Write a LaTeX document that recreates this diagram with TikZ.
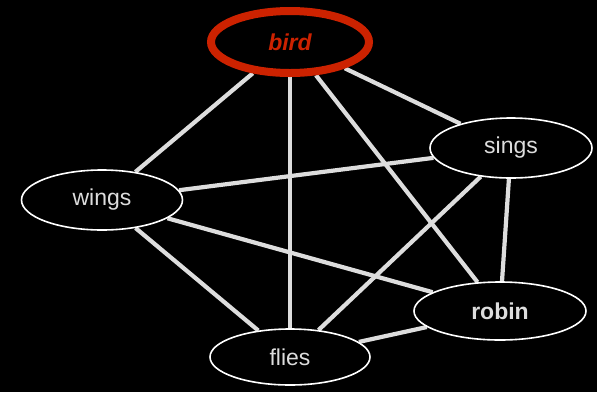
\documentclass[tikz,border=0pt]{standalone}
\usepackage{fontspec}
\setmainfont{Liberation Sans}
\usetikzlibrary{shapes.geometric,backgrounds}
\definecolor{edgegray}{HTML}{DDDDDD}
\definecolor{birdred}{HTML}{CC2200}
\pgfdeclarelayer{canvas}
\pgfsetlayers{canvas,background,main}
\begin{document}
\begin{tikzpicture}[x=1pt,y=-1pt,
  concept/.style={ellipse,draw=white,line width=1.6pt,fill=black,text=edgegray,
    font=\fontsize{23}{27}\selectfont,inner sep=0pt},
  link/.style={draw=edgegray,line width=4.2pt}]
\begin{pgfonlayer}{canvas}
\fill[black] (0,0) rectangle (597,392);
\end{pgfonlayer}
\useasboundingbox (0,0) rectangle (597,392);
\node[concept,minimum width=162pt,minimum height=60pt] (sings) at (511,148) {sings};
\node[concept,minimum width=161pt,minimum height=60pt] (wings) at (102,200) {wings};
\node[concept,minimum width=172pt,minimum height=58pt,font=\fontsize{23}{27}\selectfont\bfseries] (robin) at (500,311) {robin};
\node[concept,minimum width=160pt,minimum height=56pt] (flies) at (290,357) {flies};
\node[concept,draw=birdred,line width=8pt,text=birdred,minimum width=158pt,minimum height=62pt,
  font=\fontsize{23}{27}\selectfont\bfseries\itshape] (bird) at (290,42) {bird};
\begin{pgfonlayer}{background}
\draw[link] (bird) -- (wings);
\draw[link] (bird.center) -- (flies.center);
\draw[link] (bird) -- (robin);
\draw[link] (bird) -- (sings);
\draw[link] (wings) -- (sings);
\draw[link] (wings) -- (robin);
\draw[link] (wings) -- (flies);
\draw[link] (sings) -- (flies);
\draw[link] (sings) -- (robin);
\draw[link] (flies) -- (robin);
\end{pgfonlayer}
\end{tikzpicture}
\end{document}
